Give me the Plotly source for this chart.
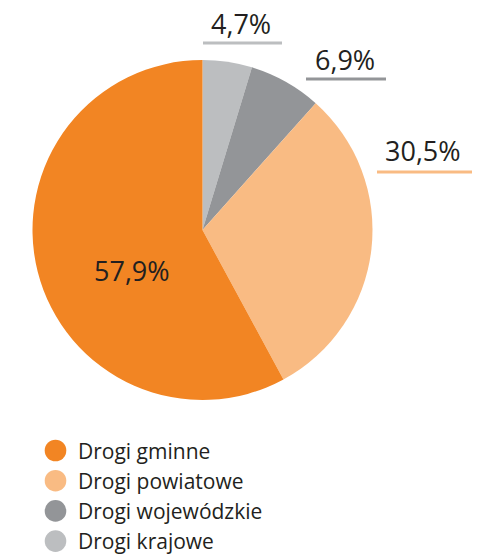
import plotly.graph_objects as go

# Data (legend order)
categories = ["Drogi gminne", "Drogi powiatowe", "Drogi wojewódzkie", "Drogi krajowe"]
shares = [57.9, 30.5, 6.9, 4.7]
share_labels = ["57,9%", "30,5%", "6,9%", "4,7%"]
colors = ["#F28523", "#F9BB83", "#939598", "#BCBEC0"]

W, H = 487, 556
TEXT = "#231F20"
FONT = "Open Sans"


def px(x):
    return x / W


def py(y):
    return 1 - y / H


fig = go.Figure()

# Pie drawn clockwise from 12 o'clock: krajowe, wojewódzkie, powiatowe, gminne
fig.add_trace(go.Pie(
    labels=categories[::-1],
    values=shares[::-1],
    sort=False,
    direction="clockwise",
    rotation=0,
    marker=dict(colors=colors[::-1], line=dict(width=0)),
    textinfo="none",
    hoverinfo="skip",
    showlegend=False,
    domain=dict(x=[px(32.5), px(372.5)], y=[py(400), py(60)]),
))

# Label placements (layout only)
label_pos = {
    "57,9%": (132, 270, None),
    "30,5%": (422.5, 150, (377, 472, 172)),
    "6,9%": (345, 59.5, (306, 386, 79)),
    "4,7%": (241, 24, (203, 282, 43)),
}

annotations = []
shapes = []
for lab, col in zip(share_labels, colors):
    x, y, line = label_pos[lab]
    annotations.append(dict(
        x=px(x), y=py(y), xref="paper", yref="paper", text=lab,
        showarrow=False, xanchor="center", yanchor="middle",
        font=dict(family=FONT, size=27, color=TEXT),
    ))
    if line:
        x0, x1, ly = line
        shapes.append(dict(
            type="line", xref="paper", yref="paper",
            x0=px(x0), x1=px(x1), y0=py(ly), y1=py(ly),
            line=dict(color=col, width=2.8),
        ))

# Legend with round markers
leg_x, leg_y0, leg_dy, r = 55.5, 450.5, 30.2, 10.8
for i, (name, col) in enumerate(zip(categories, colors)):
    cy = leg_y0 + i * leg_dy
    shapes.append(dict(
        type="circle", xref="paper", yref="paper",
        x0=px(leg_x - r), x1=px(leg_x + r), y0=py(cy + r), y1=py(cy - r),
        fillcolor=col, line=dict(width=0),
    ))
    annotations.append(dict(
        x=px(76), y=py(cy), xref="paper", yref="paper", text=name,
        showarrow=False, xanchor="left", yanchor="middle",
        font=dict(family=FONT, size=21, color=TEXT),
    ))

fig.update_layout(
    width=W, height=H,
    margin=dict(l=0, r=0, t=0, b=0),
    paper_bgcolor="white", plot_bgcolor="white",
    annotations=annotations, shapes=shapes,
    showlegend=False,
    font=dict(family=FONT, color=TEXT),
)

fig.write_html(
    "out.html",
    config={"displayModeBar": False},
    post_script="document.body.style.margin='0';",
)
